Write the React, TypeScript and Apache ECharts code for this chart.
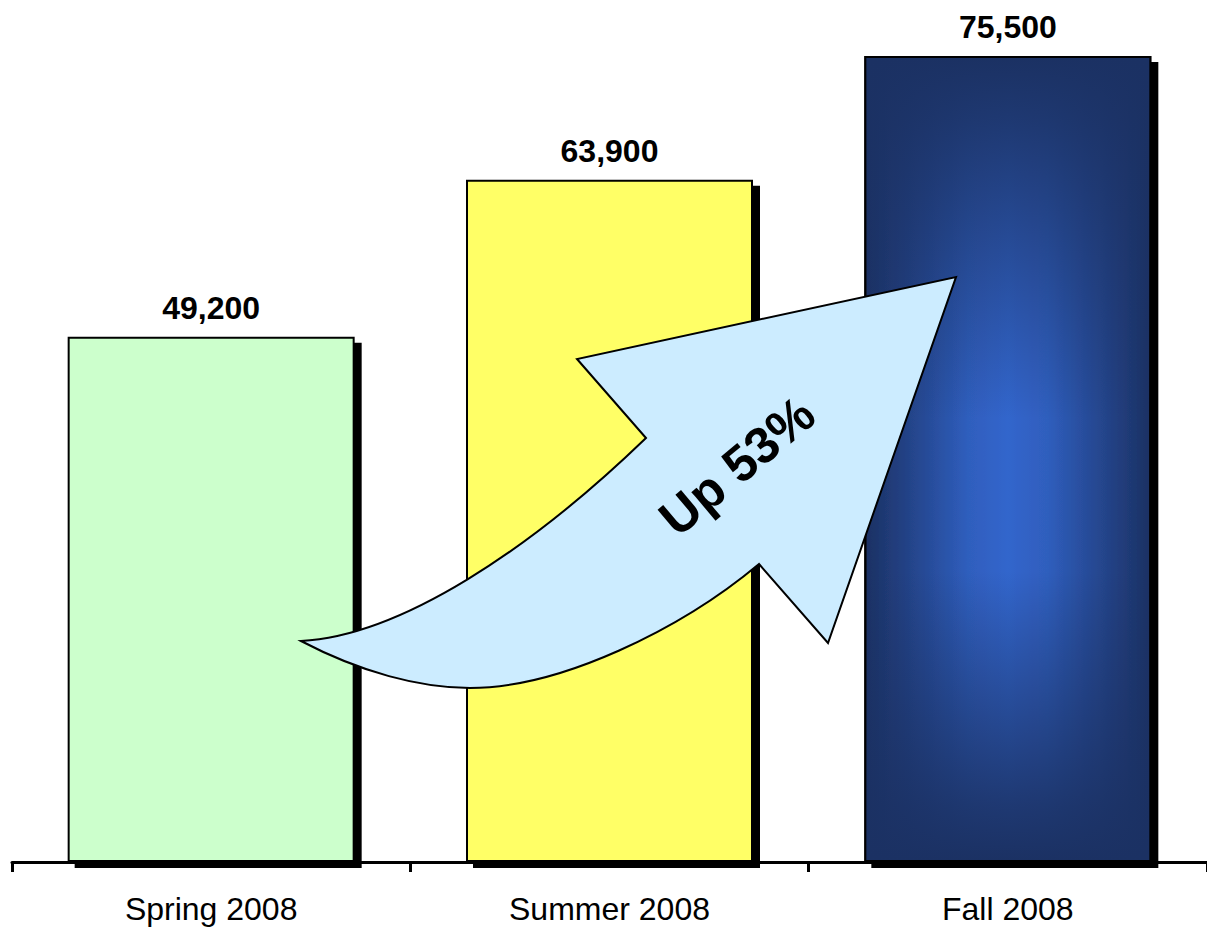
import React, { useEffect, useRef } from "react";
import * as echarts from "echarts";

const categories = ["Spring 2008", "Summer 2008", "Fall 2008"];
const values = [49200, 63900, 75500];
const barColors = ["#CCFFCC", "#FFFF66", "#2B55AD"];
const arrowText = "Up 53%";

const ARROW_PATH =
  "M 301 641 C 400 636 530 550 646 438 L 577 359 L 956 277 L 828 643 L 759 564 C 680 630 560 688 470 688 C 420 688 360 672 301 641 Z";

echarts.graphic.registerShape("upArrow", echarts.graphic.extendPath(ARROW_PATH, {}));

const FONT = "'Liberation Sans', Arial, Helvetica, sans-serif";

export default function App() {
  const ref = useRef<HTMLDivElement>(null);
  useEffect(() => {
    if (!ref.current) return;
    const chart = echarts.init(ref.current, null, { renderer: "svg" });
    const fallMain = {
      type: "linear",
      x: 0,
      y: 0,
      x2: 1,
      y2: 0,
      colorStops: [
        { offset: 0, color: "#1B3163" },
        { offset: 0.12, color: "#223F80" },
        { offset: 0.36, color: "#2F5EBD" },
        { offset: 0.5, color: "#3366CC" },
        { offset: 0.64, color: "#2F5EBD" },
        { offset: 0.88, color: "#223F80" },
        { offset: 1, color: "#1B3163" },
      ],
    };
    const fallOverlay = {
      type: "linear",
      x: 0,
      y: 0,
      x2: 0,
      y2: 1,
      colorStops: [
        { offset: 0, color: "rgba(27,49,99,1)" },
        { offset: 0.08, color: "rgba(27,49,99,0.85)" },
        { offset: 0.45, color: "rgba(27,49,99,0)" },
        { offset: 0.64, color: "rgba(27,49,99,0)" },
        { offset: 0.93, color: "rgba(27,49,99,0.85)" },
        { offset: 1, color: "rgba(27,49,99,1)" },
      ],
    };
    chart.setOption({
      animation: false,
      backgroundColor: "#ffffff",
      grid: { left: 12, width: 1197, top: 56, bottom: 66, containLabel: false },
      xAxis: {
        type: "category",
        data: categories,
        axisLine: { show: true, lineStyle: { color: "#000", width: 3 } },
        axisTick: { show: true, length: 10, lineStyle: { color: "#000", width: 3 } },
        axisLabel: { color: "#000", fontSize: 32, fontFamily: FONT, margin: 31 },
        z: 10,
      },
      yAxis: {
        type: "value",
        min: 0,
        max: 75500,
        show: false,
        splitLine: { show: false },
      },
      series: [
        {
          type: "bar",
          barWidth: 287,
          barGap: "-100%",
          data: values.map((v, i) => ({
            value: v,
            itemStyle: { color: i === 2 ? fallMain : barColors[i] },
          })),
          itemStyle: {
            borderColor: "#000",
            borderWidth: 2,
            shadowColor: "#000",
            shadowBlur: 0,
            shadowOffsetX: 7,
            shadowOffsetY: 6,
          },
          label: {
            show: true,
            position: "top",
            distance: 13,
            color: "#000",
            fontSize: 32,
            fontWeight: "bold",
            fontFamily: FONT,
            formatter: (p: any) => Number(p.value).toLocaleString("en-US"),
          },
        },
        {
          type: "bar",
          barWidth: 287,
          barGap: "-100%",
          data: values.map((v, i) => (i === 2 ? v : null)),
          itemStyle: { color: fallOverlay, borderColor: "#000", borderWidth: 2 },
          label: { show: false },
          silent: true,
        },
      ],
      graphic: [
        {
          type: "upArrow",
          x: 0,
          y: 0,
          z: 100,
          style: { fill: "#CCECFF", stroke: "#000", lineWidth: 2, lineJoin: "miter" },
        },
        {
          type: "text",
          x: 737,
          y: 466,
          z: 101,
          rotation: (40 * Math.PI) / 180,
          style: {
            text: arrowText,
            fill: "#000",
            font: `bold 51px ${FONT}`,
            textAlign: "center",
            textVerticalAlign: "middle",
          },
        },
      ],
    });
    return () => chart.dispose();
  }, []);
  return (
    <div
      ref={ref}
      style={{ position: "fixed", left: 0, top: 0, width: 1207, height: 928 }}
    />
  );
}
